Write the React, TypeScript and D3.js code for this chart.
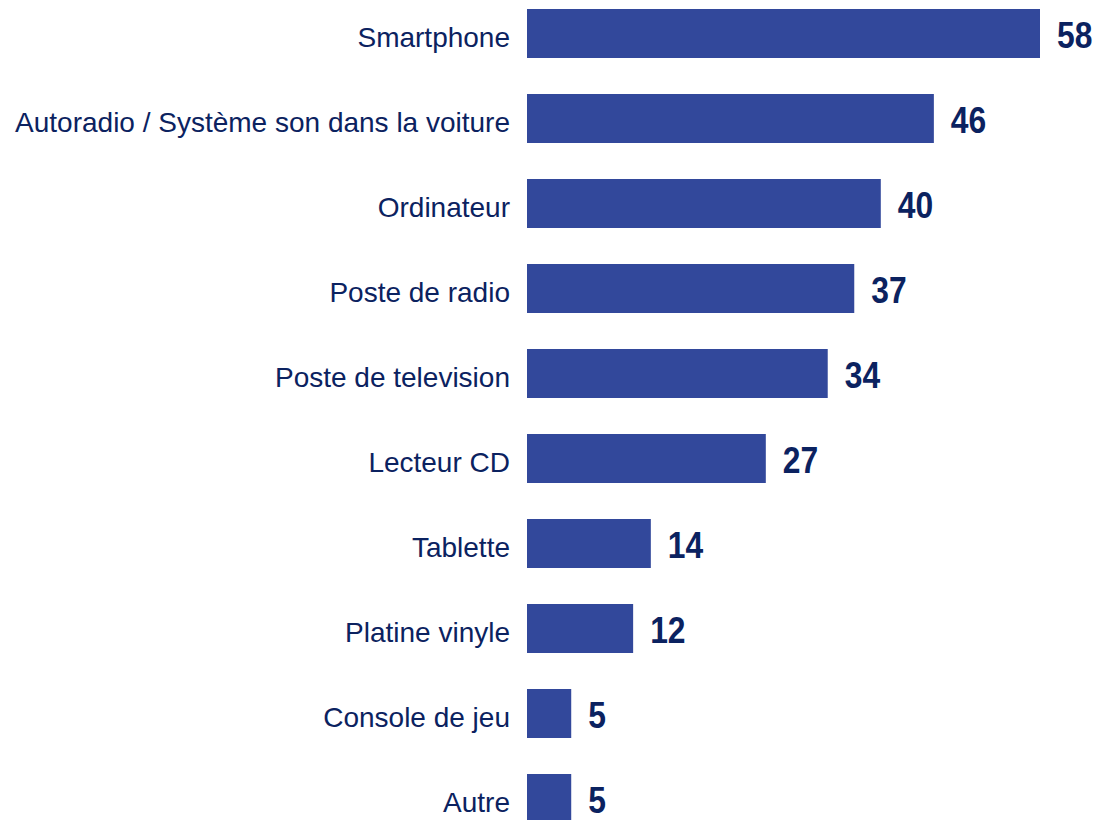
import React from "react";
import * as d3 from "d3";

const categories: string[] = [
  "Smartphone",
  "Autoradio / Système son dans la voiture",
  "Ordinateur",
  "Poste de radio",
  "Poste de television",
  "Lecteur CD",
  "Tablette",
  "Platine vinyle",
  "Console de jeu",
  "Autre",
];
const values: number[] = [58, 46, 40, 37, 34, 27, 14, 12, 5, 5];

const W = 1104;
const H = 820;
const BAR_COLOR = "#32489b";
const TEXT_COLOR = "#0b2260";

export default function App() {
  const x = d3.scaleLinear().domain([0, 58]).range([527, 1040]);
  const step = 85;
  const pi = 36 / 85;
  const y = d3
    .scaleBand<string>()
    .domain(categories)
    .range([9, 9 + step * (categories.length - pi)])
    .paddingInner(pi)
    .paddingOuter(0);
  const bw = y.bandwidth();

  return (
    <svg
      width={W}
      height={H}
      style={{ position: "absolute", left: 0, top: 0, display: "block", background: "#fff" }}
    >
      {categories.map((c, i) => {
        const y0 = y(c) as number;
        const cy = y0 + bw / 2;
        const v = values[i];
        return (
          <g key={c}>
            <rect x={x(0)} y={y0} width={x(v) - x(0)} height={bw} fill={BAR_COLOR} />
            <text
              x={x(0) - 17}
              y={cy + 13.5}
              textAnchor="end"
              fill={TEXT_COLOR}
              style={{ fontFamily: "'Liberation Sans', Arial, sans-serif", fontSize: 28 }}
            >
              {c}
            </text>
            <g transform={`translate(${x(v) + 17},${cy + 14.6}) scale(0.86,1)`}>
              <text
                x={0}
                y={0}
                textAnchor="start"
                fill={TEXT_COLOR}
                style={{
                  fontFamily: "'Liberation Sans', Arial, sans-serif",
                  fontSize: 37,
                  fontWeight: 700,
                }}
              >
                {v}
              </text>
            </g>
          </g>
        );
      })}
    </svg>
  );
}
